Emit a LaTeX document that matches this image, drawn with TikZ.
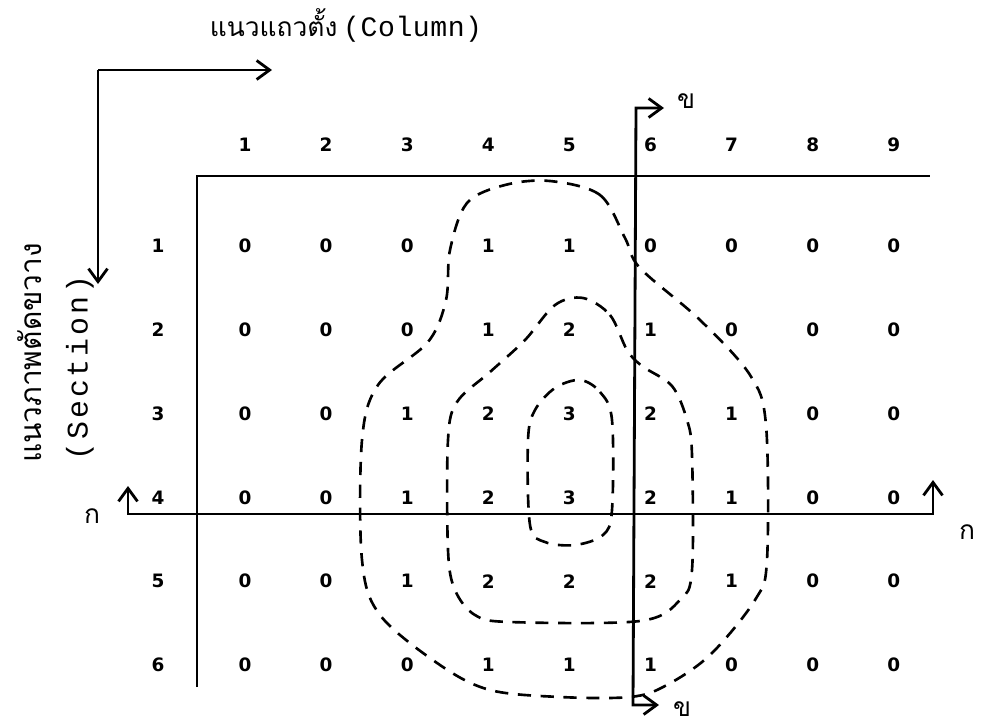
\documentclass[tikz,border=0pt]{standalone}
\usepackage{fontspec}
\newfontfamily\thaifont[Script=Thai]{Loma}
\newfontfamily\numfont{DejaVu Sans}
\newfontfamily\colfont[LetterSpace=2]{Liberation Mono}
\newfontfamily\secfont[LetterSpace=10]{Liberation Mono}
\usepackage{tikz}
\usetikzlibrary{positioning,arrows.meta}
\tikzset{
  num-label/.style={font=\numfont\bfseries\fontsize{10.5}{12}\selectfont,inner sep=1pt},
  thai-label/.style={font=\thaifont\fontsize{15}{18}\selectfont,inner sep=0pt,
    text height=8pt,text depth=0pt},
  grid-line/.style={line width=1.6pt,draw=black},
  axis-arrow/.style={-{Straight Barb[length=2.6mm,width=3.8mm]},line width=1.6pt},
  cut-arrow/.style={{Straight Barb[length=2.6mm,width=3.8mm]}-{Straight Barb[length=2.6mm,width=3.8mm]},line width=1.6pt},
  contour/.style={line width=1.5pt,dash pattern=on 7.5pt off 5.5pt},
}

\begin{document}
\begin{tikzpicture}[x=0.02cm,y=-0.02cm]
  \useasboundingbox (0,0) rectangle (984,727);
  % titles
  \node[inner sep=1pt] (title-col) at (346,25)
    {{\thaifont\fontsize{15}{18}\selectfont แนวแถวตั้ง} {\colfont\fontsize{16}{18}\selectfont (Column)}};
  \node[rotate=90,inner sep=1pt,font=\thaifont\fontsize{17}{20}\selectfont] (title-sec) at (30,353) {แนวภาพตัดขวาง};
  \node[rotate=90,inner sep=1pt,font=\secfont\fontsize{17}{20}\selectfont] (title-sec-en) at (80,368) {(Section)};

  % direction arrows
  \coordinate (corner) at (98,70);
  \coordinate (col-tip) at (272,70);
  \coordinate (sec-tip) at (98,284);
  \draw[axis-arrow] (corner) -- (col-tip);
  \draw[axis-arrow] (corner) -- (sec-tip);

  % table frame
  \coordinate (frame-bl) at (197,687);
  \coordinate (frame-tl) at (197,176);
  \coordinate (frame-tr) at (930,176);
  \draw[grid-line] (frame-bl) -- (frame-tl) -- (frame-tr);

  % headers
  \foreach \c in {1,...,9}
    \node[num-label] (hdr-\c) at ({245+81.1*(\c-1)},145) {\c};
  \foreach \r in {1,...,6}
    \node[num-label] (row-\r) at (158,{246+83.8*(\r-1)}) {\r};

  % values
  \foreach \vals [count=\r] in {{0,0,0,1,1,0,0,0,0},{0,0,0,1,2,1,0,0,0},
      {0,0,1,2,3,2,1,0,0},{0,0,1,2,3,2,1,0,0},{0,0,1,2,2,2,1,0,0},
      {0,0,0,1,1,1,0,0,0}}
    \foreach \v [count=\c] in \vals
      \node[num-label] (cell-\r-\c) at ({245+81.1*(\c-1)},{246+83.8*(\r-1)}) {\v};

  % contours
  \draw[contour] plot[smooth cycle,tension=0.55] coordinates {
    (550,181) (600,195) (625,238) (640,268) (700,320) (750,375) (766,425)
    (767,560) (755,600) (710,655) (665,686) (630,697) (560,697) (490,690)
    (440,665) (380,615) (362,560) (362,440) (378,385) (428,342) (446,300)
    (450,250) (467,203) (505,185)};
  \draw[contour] plot[smooth cycle,tension=0.55] coordinates {
    (583,298) (610,315) (627,350) (642,366) (672,386) (687,420) (692,455)
    (692,570) (680,600) (640,621) (510,622) (475,615) (455,590) (448,550)
    (448,440) (457,402) (490,372) (525,340) (555,305)};
  \draw[contour] plot[smooth cycle,tension=0.55] coordinates {
    (580,380) (600,392) (612,420) (612,510) (603,535) (575,545) (545,542)
    (530,525) (528,440) (535,410) (555,388)};

  % section lines
  \coordinate (ka-tip) at (128,486);
  \coordinate (ka) at (128,514);
  \coordinate (kb) at (933,514);
  \coordinate (kb-tip) at (933,480);
  \draw[cut-arrow] (ka-tip) -- (ka) -- (kb) -- (kb-tip);
  \node[thai-label] (lbl-ka) at (92,516) {ก};
  \node[thai-label] (lbl-kb) at (967,532) {ก};

  \coordinate (kh-top-tip) at (664,108);
  \coordinate (kh-top) at (636,108);
  \coordinate (kh-bot) at (633,705);
  \coordinate (kh-bot-tip) at (659,705);
  \draw[cut-arrow] (kh-top-tip) -- (kh-top) -- (kh-bot) -- (kh-bot-tip);
  \node[thai-label] (lbl-kha) at (686,101) {ข};
  \node[thai-label] (lbl-khb) at (682,709) {ข};
\end{tikzpicture}
\end{document}
